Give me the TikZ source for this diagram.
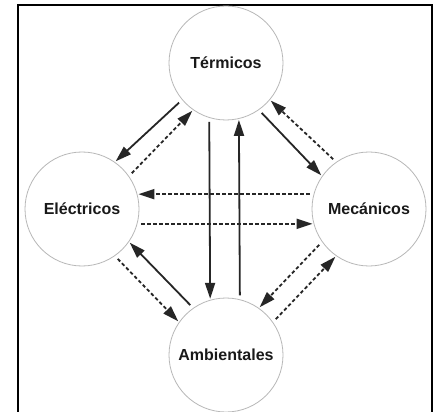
\documentclass[tikz,border=0pt]{standalone}
\usepackage{fontspec}
\setmainfont{Liberation Sans}
\usetikzlibrary{arrows.meta}
\begin{document}
\begin{tikzpicture}[x=1pt,y=-1pt,
  bubble/.style={circle, draw=black!28, line width=0.8pt, minimum size=114pt, inner sep=0pt,
    font=\fontsize{16}{18}\selectfont\bfseries, text=black!90},
  conn/.style={line width=1.8pt, draw=black!85, -{Triangle[length=16pt,width=10pt]},
    shorten <=4pt, shorten >=1pt},
  solidconn/.style={conn},
  dashconn/.style={conn, dash pattern=on 3.5pt off 2.5pt}
]
\useasboundingbox (0,0) rectangle (435,411);
\fill[white] (0,0) rectangle (435,411);
\draw[line width=2pt] (18,412) -- (18,5) -- (432,5) -- (432,412);

\node[bubble] (T) at (226,63) {Térmicos};
\node[bubble] (E) at (82,209) {Eléctricos};
\node[bubble] (M) at (369,209) {Mecánicos};
\node[bubble] (A) at (226,355) {Ambientales};

% Termicos - Electricos
\draw[solidconn] (T.220) -- (E.55);
\draw[dashconn] (E.35) -- (T.235);
% Termicos - Mecanicos
\draw[solidconn] (T.305) -- (M.145);
\draw[dashconn] (M.125) -- (T.320);
% Termicos - Ambientales
\draw[solidconn] (T.253.7) -- (A.106.3);
\draw[solidconn] (A.76.8) -- (T.283.2);
% Electricos - Mecanicos
\draw[dashconn] (M.165) -- (E.15);
\draw[dashconn] (E.345) -- (M.195);
% Electricos - Ambientales
\draw[dashconn] (E.305) -- (A.145);
\draw[solidconn] (A.125) -- (E.325);
% Mecanicos - Ambientales
\draw[dashconn] (M.215) -- (A.55);
\draw[dashconn] (A.35) -- (M.235);
\end{tikzpicture}
\end{document}
